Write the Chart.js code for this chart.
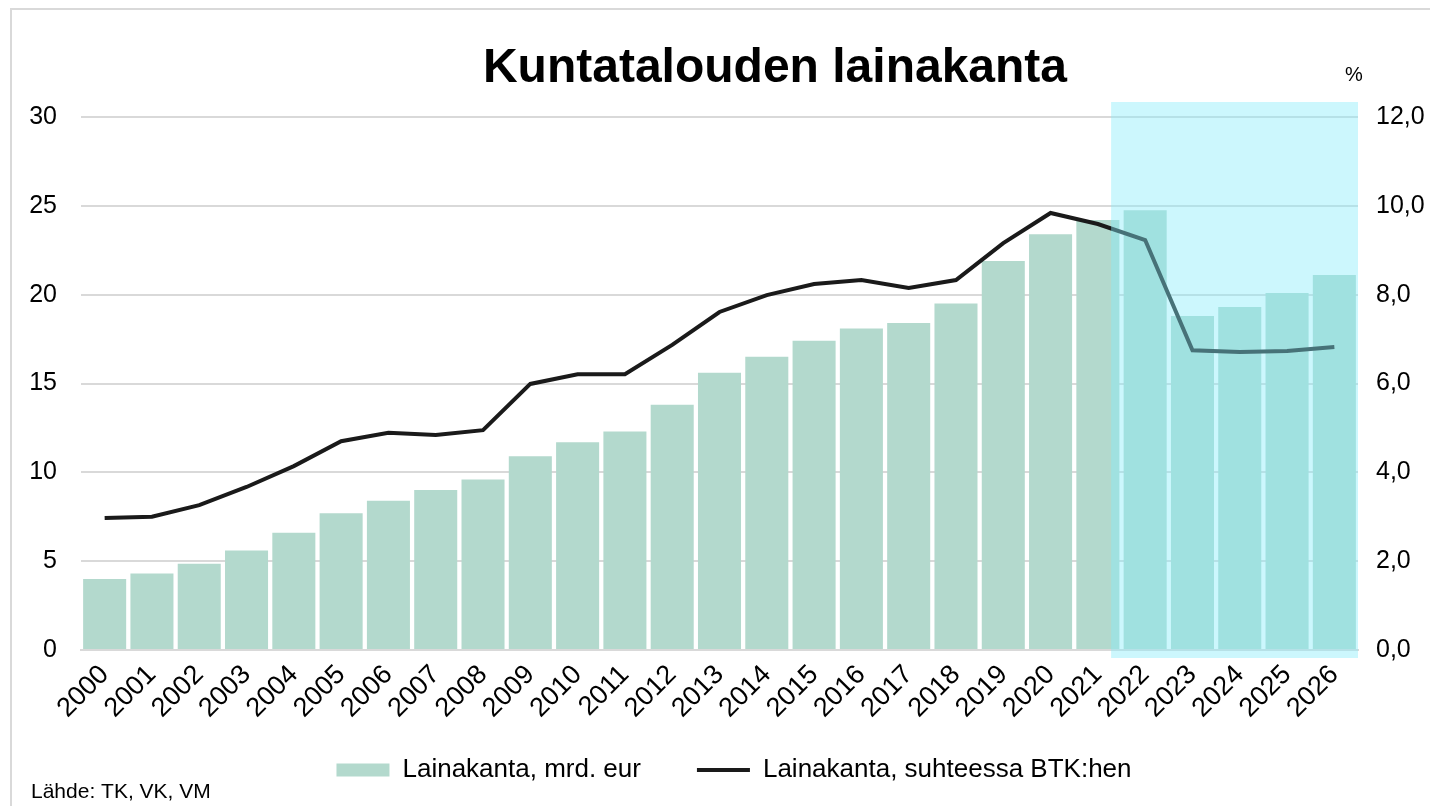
<!DOCTYPE html>
<html>
<head>
<meta charset="utf-8">
<script src="https://cdn.jsdelivr.net/npm/chart.js@4/dist/chart.umd.min.js"></script>
<style>
html,body{margin:0;padding:0;background:#ffffff;}
canvas{display:block;}
</style>
</head>
<body>
<canvas id="c" width="1430" height="806"></canvas>
<script>
const years = ['2000','2001','2002','2003','2004','2005','2006','2007','2008','2009','2010','2011','2012','2013','2014','2015','2016','2017','2018','2019','2020','2021','2022','2023','2024','2025','2026'];
const loanStock = [4.0,4.3,4.85,5.6,6.6,7.7,8.4,9.0,9.6,10.9,11.7,12.3,13.8,15.6,16.5,17.4,18.1,18.4,19.5,21.9,23.4,24.2,24.75,18.8,19.3,20.1,21.1];
const loanToGdp = [2.97,3.0,3.26,3.67,4.14,4.70,4.89,4.84,4.95,5.99,6.21,6.21,6.87,7.61,7.99,8.24,8.33,8.15,8.33,9.16,9.84,9.59,9.23,6.75,6.71,6.73,6.82];
const leftAxis = {min:0, max:30, step:5};
const rightAxis = {min:0, max:12, step:2};
const forecastFrom = 22; // index of 2022
const titleText = 'Kuntatalouden lainakanta';
const unitText = '%';
const sourceText = 'Lähde: TK, VK, VM';
const barLabel = 'Lainakanta, mrd. eur';
const lineLabel = 'Lainakanta, suhteessa BTK:hen';

const FONT = "'Liberation Sans', Arial, sans-serif";

const decor = {
  id: 'decor',
  afterLayout(chart) {
    if (chart.legend) {
      chart.legend.left += 19;
      chart.legend.right += 19;
    }
    // let the rotated year labels overflow below the axis box
    chart.scales.x.bottom = chart.height;
  },
  beforeDraw(chart) {
    const ctx = chart.ctx;
    ctx.save();
    ctx.fillStyle = '#ffffff';
    ctx.fillRect(0, 0, chart.width, chart.height);
    ctx.strokeStyle = '#d9d9d9';
    ctx.lineWidth = 2;
    ctx.beginPath();
    ctx.moveTo(11, chart.height);
    ctx.lineTo(11, 9);
    ctx.lineTo(chart.width, 9);
    ctx.stroke();
    ctx.restore();
  },
  afterDatasetsDraw(chart) {
    const ctx = chart.ctx;
    const xs = chart.scales.x;
    const area = chart.chartArea;
    const step = xs.getPixelForValue(1) - xs.getPixelForValue(0);
    const left = xs.getPixelForValue(forecastFrom - 1) + step * 0.28;
    ctx.save();
    ctx.fillStyle = 'rgba(134,237,250,0.42)';
    ctx.fillRect(left, area.top - 15, area.right - left, area.bottom - area.top + 23);
    ctx.restore();
  },
  afterDraw(chart) {
    const ctx = chart.ctx;
    ctx.save();
    ctx.fillStyle = '#000000';
    ctx.textBaseline = 'alphabetic';
    ctx.textAlign = 'center';
    ctx.font = 'bold 48px ' + FONT;
    ctx.fillText(titleText, 775, 82);
    ctx.font = '20px ' + FONT;
    ctx.fillText(unitText, 1354, 81);
    ctx.textAlign = 'left';
    ctx.font = '21px ' + FONT;
    ctx.fillText(sourceText, 31, 798);
    ctx.restore();
  }
};

new Chart(document.getElementById('c'), {
  data: {
    labels: years,
    datasets: [
      {
        type: 'line',
        label: lineLabel,
        data: loanToGdp,
        yAxisID: 'y1',
        borderColor: '#1a1a1a',
        backgroundColor: '#1a1a1a',
        borderWidth: 4,
        pointRadius: 0,
        pointStyle: 'line',
        tension: 0,
        order: 0
      },
      {
        type: 'bar',
        label: barLabel,
        data: loanStock,
        yAxisID: 'y',
        backgroundColor: '#b3d9cd',
        borderWidth: 0,
        pointStyle: 'rect',
        barPercentage: 0.91,
        categoryPercentage: 1.0,
        order: 1
      }
    ]
  },
  options: {
    responsive: false,
    animation: false,
    layout: { padding: { left: 0, right: 0, top: 117, bottom: 13 } },
    plugins: {
      title: { display: false },
      tooltip: { enabled: false },
      legend: {
        display: true,
        position: 'bottom',
        reverse: true,
        labels: {
          usePointStyle: true,
          pointStyleWidth: 53,
          boxHeight: 13,
          padding: 56,
          color: '#000000',
          font: { family: FONT, size: 26 }
        }
      }
    },
    scales: {
      x: {
        offset: true,
        grid: { display: false, drawTicks: false },
        border: { display: true, color: '#d9d9d9', width: 2 },
        ticks: {
          autoSkip: false, maxRotation: 45, minRotation: 45,
          color: '#000000', padding: 9,
          font: { family: FONT, size: 27 }
        },
        afterFit(s) { s.height = 51; }
      },
      y: {
        position: 'left',
        min: leftAxis.min, max: leftAxis.max,
        grid: { color: '#d9d9d9', lineWidth: 2, drawTicks: false },
        border: { display: false },
        ticks: {
          stepSize: leftAxis.step, color: '#000000', padding: 24,
          font: { family: FONT, size: 25 }
        },
        afterFit(s) { s.width = 81; }
      },
      y1: {
        position: 'right',
        min: rightAxis.min, max: rightAxis.max,
        grid: { display: false, drawTicks: false },
        border: { display: false },
        ticks: {
          stepSize: rightAxis.step, color: '#000000', padding: 18,
          font: { family: FONT, size: 25 },
          callback: (v) => v.toFixed(1).replace('.', ',')
        },
        afterFit(s) { s.width = 72; }
      }
    }
  },
  plugins: [decor]
});
</script>
</body>
</html>
